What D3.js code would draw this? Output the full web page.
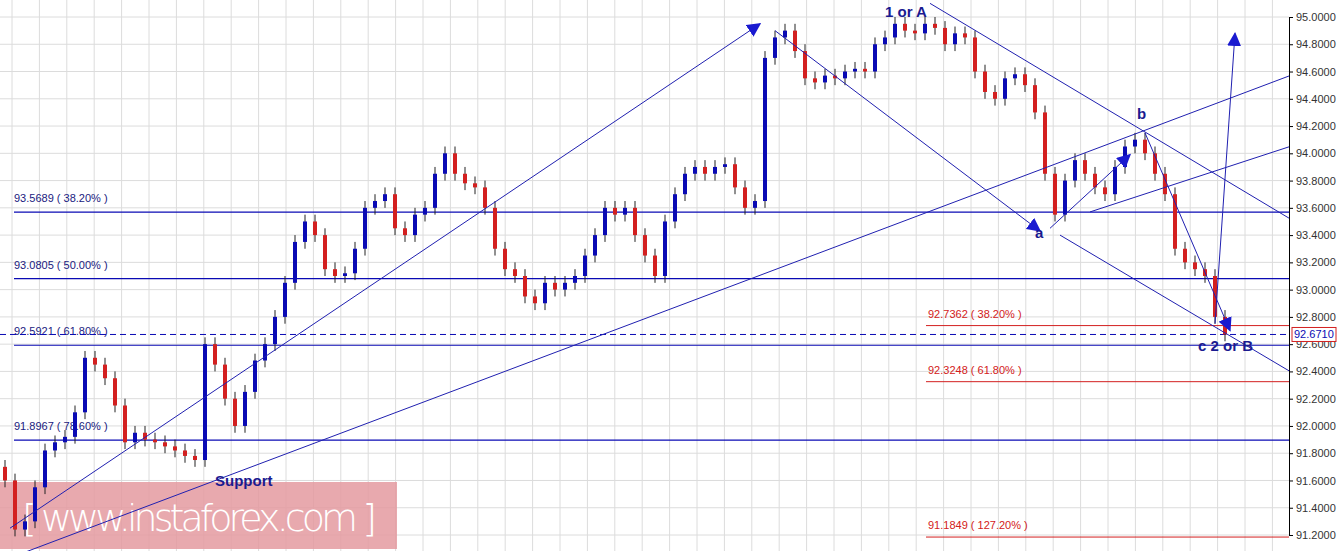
<!DOCTYPE html><html><head><meta charset="utf-8"><script src="https://cdn.jsdelivr.net/npm/d3@7"></script>
<style>body{margin:0;background:#fff}svg{display:block;font-family:"Liberation Sans",Arial,sans-serif}</style></head><body><svg id="c" width="1343" height="551"></svg><script>
const closes=[91.60,91.24,91.30,91.55,91.82,91.88,91.92,92.10,92.50,92.45,92.35,92.15,91.88,91.95,91.90,91.88,91.85,91.82,91.78,91.75,92.60,92.45,92.20,92.00,92.25,92.48,92.60,92.80,93.05,93.35,93.50,93.40,93.15,93.10,93.12,93.30,93.60,93.65,93.70,93.45,93.40,93.55,93.60,93.85,94.00,93.85,93.78,93.75,93.60,93.30,93.15,93.10,92.95,92.90,93.05,93.00,93.05,93.10,93.25,93.40,93.60,93.55,93.60,93.40,93.25,93.10,93.50,93.70,93.85,93.90,93.85,93.90,93.92,93.75,93.60,93.65,94.70,94.85,94.90,94.75,94.55,94.52,94.57,94.55,94.60,94.62,94.60,94.80,94.85,94.95,94.90,94.88,94.95,94.92,94.80,94.88,94.85,94.60,94.45,94.40,94.55,94.58,94.50,94.30,93.85,93.55,93.80,93.95,93.85,93.75,93.70,93.90,94.05,94.10,94.00,93.85,93.70,93.30,93.20,93.15,93.10,92.80,92.671];
const firstOpen=91.70;
const priceTicks=[95.0,94.8,94.6,94.4,94.2,94.0,93.8,93.6,93.4,93.2,93.0,92.8,92.6,92.4,92.2,92.0,91.8,91.6,91.4,91.2];
const blueLevels=[{p:93.5689,t:"93.5689 ( 38.20% )"},{p:93.0805,t:"93.0805 ( 50.00% )"},{p:92.5921,t:"92.5921 ( 61.80% )"},{p:91.8967,t:"91.8967 ( 78.60% )"}];
const redLevels=[{p:92.7362,t:"92.7362 ( 38.20% )"},{p:92.3248,t:"92.3248 ( 61.80% )"},{p:91.1849,t:"91.1849 ( 127.20% )"}];
const lastPrice=92.671;
// trend lines in [candle index, price]
const trendLines=[
 {a:[0.5,91.25],b:[75.5,94.95],arrow:true},
 {a:[77,94.90],b:[103.5,93.43],arrow:true},
 {a:[1.5,91.06],b:[128.5,94.57],arrow:false},
 {a:[92.5,95.10],b:[128.5,93.52],arrow:false},
 {a:[105.5,93.40],b:[128.5,92.40],arrow:false},
 {a:[104.5,93.45],b:[112.5,93.99],arrow:true},
 {a:[108.5,93.57],b:[128.5,94.05],arrow:false},
 {a:[114,94.15],b:[122.5,92.70],arrow:true},
 {a:[121,92.75],b:[123,94.88],arrow:true}
];
const labels=[{i:88,p:95.0,t:"1 or A"},{i:113.2,p:94.25,t:"b"},{i:103,p:93.38,t:"a"},{i:119.3,p:92.55,t:"c 2 or B"},{i:21,p:91.56,t:"Support"}];

const svg=d3.select("#c"),W=1289,H=551;
const x=d3.scaleLinear().domain([0,1]).range([5,15]);
const y=d3.scaleLinear().domain([95,91.2]).range([17,535]);
const blue="#0a0ab4",red="#d32020";
const defs=svg.append("defs");
defs.append("marker").attr("id","ar").attr("viewBox","0 0 10 10").attr("refX",9).attr("refY",5).attr("markerWidth",14).attr("markerHeight",14).attr("markerUnits","userSpaceOnUse").attr("orient","auto").append("path").attr("d","M0,0L10,5L0,10z").attr("fill","#1a1ad0");
defs.append("clipPath").attr("id","cp").append("rect").attr("width",W).attr("height",H);
// grid
const g=svg.append("g");
for(let gx=12;gx<W;gx+=27.4)g.append("line").attr("x1",gx).attr("x2",gx).attr("y1",0).attr("y2",H).attr("stroke","#dcdcdc");
priceTicks.forEach(p=>g.append("line").attr("x1",0).attr("x2",W).attr("y1",y(p)).attr("y2",y(p)).attr("stroke","#dcdcdc"));
// axis
const ax=svg.append("g").attr("transform",`translate(${W},0)`).call(d3.axisRight(y).tickValues(priceTicks).tickSize(4).tickFormat(d3.format(".4f")));
ax.select(".domain").attr("stroke","#000");
ax.selectAll("text").attr("font-size",11).attr("fill","#333").attr("font-family","Liberation Sans,Arial");
// watermark
svg.append("rect").attr("x",0).attr("y",482).attr("width",397).attr("height",67).attr("fill","#e49aa0").attr("opacity",0.85);
svg.append("text").attr("x",22).attr("y",531).attr("fill","#fff").attr("font-size",38).attr("font-family","DejaVu Sans,sans-serif").attr("font-weight",300).text("[ www.instaforex.com ]").attr("textLength",355);
// levels
const lv=svg.append("g").attr("clip-path","url(#cp)");
blueLevels.forEach(l=>{lv.append("line").attr("x1",14).attr("x2",W).attr("y1",y(l.p)).attr("y2",y(l.p)).attr("stroke",blue).attr("stroke-width",1.2);
 lv.append("text").attr("x",14).attr("y",y(l.p)-10).attr("font-size",11).attr("fill","#1a1a80").text(l.t);});
redLevels.forEach(l=>{lv.append("line").attr("x1",926).attr("x2",W).attr("y1",y(l.p)).attr("y2",y(l.p)).attr("stroke",red).attr("stroke-width",1);
 lv.append("text").attr("x",928).attr("y",y(l.p)-8).attr("font-size",11).attr("fill",red).text(l.t);});
lv.append("line").attr("x1",0).attr("x2",W).attr("y1",y(lastPrice)).attr("y2",y(lastPrice)).attr("stroke",blue).attr("stroke-dasharray","6,4");
// candles
const cg=svg.append("g");
closes.forEach((c,i)=>{const o=i?closes[i-1]:firstOpen;const up=c>=o;const col=up?blue:red;
 const hi=Math.max(o,c)+0.05,lo=Math.min(o,c)-0.05;
 cg.append("line").attr("x1",x(i)).attr("x2",x(i)).attr("y1",y(hi)).attr("y2",y(lo)).attr("stroke","#222");
 cg.append("rect").attr("x",x(i)-2).attr("width",4).attr("y",y(Math.max(o,c))).attr("height",Math.max(1,y(Math.min(o,c))-y(Math.max(o,c)))).attr("fill",col);});
// trend lines
const tg=svg.append("g").attr("clip-path","url(#cp)");
trendLines.forEach(t=>{const l=tg.append("line").attr("x1",x(t.a[0])).attr("y1",y(t.a[1])).attr("x2",x(t.b[0])).attr("y2",y(t.b[1])).attr("stroke","#2020b0").attr("stroke-width",1);if(t.arrow)l.attr("marker-end","url(#ar)");});
labels.forEach(l=>svg.append("text").attr("x",x(l.i)).attr("y",y(l.p)).attr("font-size",15).attr("font-weight","bold").attr("fill","#1a1a90").text(l.t));
// price box
svg.append("rect").attr("x",1292).attr("y",y(lastPrice)-7).attr("width",44).attr("height",14).attr("fill","#fff").attr("stroke",red);
svg.append("text").attr("x",1294).attr("y",y(lastPrice)+4).attr("font-size",11).attr("fill",blue).text(lastPrice.toFixed(4));
</script></body></html>
